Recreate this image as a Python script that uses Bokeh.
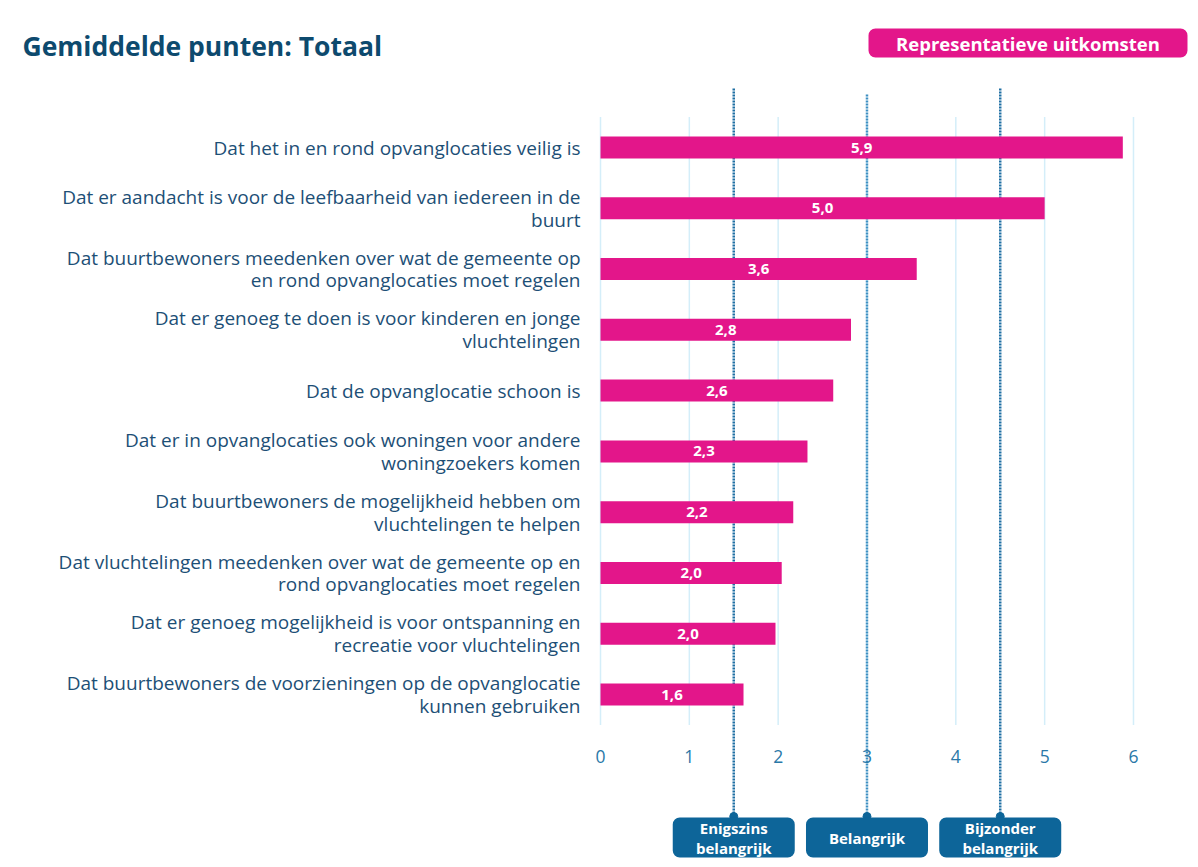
from bokeh.plotting import figure
from bokeh.models import Range1d, LinearAxis, FixedTicker
from bokeh.core.properties import value
from bokeh.embed import file_html
from bokeh.resources import INLINE

# ---------------- data ----------------
categories = [
    "Dat het in en rond opvanglocaties veilig is",
    "Dat er aandacht is voor de leefbaarheid van iedereen in de\nbuurt",
    "Dat buurtbewoners meedenken over wat de gemeente op\nen rond opvanglocaties moet regelen",
    "Dat er genoeg te doen is voor kinderen en jonge\nvluchtelingen",
    "Dat de opvanglocatie schoon is",
    "Dat er in opvanglocaties ook woningen voor andere\nwoningzoekers komen",
    "Dat buurtbewoners de mogelijkheid hebben om\nvluchtelingen te helpen",
    "Dat vluchtelingen meedenken over wat de gemeente op en\nrond opvanglocaties moet regelen",
    "Dat er genoeg mogelijkheid is voor ontspanning en\nrecreatie voor vluchtelingen",
    "Dat buurtbewoners de voorzieningen op de opvanglocatie\nkunnen gebruiken",
]
values = [5.88, 5.00, 3.56, 2.82, 2.62, 2.33, 2.17, 2.04, 1.97, 1.61]
x_ticks = [0, 1, 2, 3, 4, 5, 6]
threshold_values = [1.5, 3.0, 4.5]
threshold_labels = ["Enigszins\nbelangrijk", "Belangrijk", "Bijzonder\nbelangrijk"]
title_text = "Gemiddelde punten: Totaal"
badge_text = "Representatieve uitkomsten"

value_labels = [f"{v:.1f}".replace(".", ",") for v in values]
rows = list(range(len(categories)))

# ---------------- layout helpers ----------------
W, H = 1196, 865
X0_PX = 600.0        # screen px of x = 0
PX_PER_X = 88.83
Y0_PX = 147.0        # screen px of first row centre
PX_PER_ROW = 60.78


def dx(px):
    return (px - X0_PX) / PX_PER_X


def dy(py):
    return (py - Y0_PX) / PX_PER_ROW


FONT = "Open Sans"
PINK = "#e3168a"
DARK = "#1d4f76"
BLUE = "#0d6599"

p = figure(
    width=W, height=H,
    x_range=Range1d(-X0_PX / PX_PER_X, (W - X0_PX) / PX_PER_X),
    y_range=Range1d(start=(H - Y0_PX) / PX_PER_ROW, end=-Y0_PX / PX_PER_ROW),
    output_backend="svg", toolbar_location=None,
    x_axis_location=None, y_axis_location=None,
    min_border=0, outline_line_color=None,
)
p.xgrid.visible = False
p.ygrid.visible = False

axis = LinearAxis(
    ticker=FixedTicker(ticks=x_ticks),
    fixed_location=9.5,
    axis_line_color=None,
    major_tick_line_color=None,
    minor_tick_line_color=None,
    major_label_standoff=19,
    major_label_text_color="#2a78a8",
    major_label_text_font=FONT,
    major_label_text_font_size="17.5px",
)
p.add_layout(axis, "below")

# grid lines
p.segment(x0=x_ticks, y0=[-0.5] * len(x_ticks), x1=x_ticks, y1=[9.5] * len(x_ticks),
          line_color="#d4eef9", line_width=1.5)

# threshold dotted lines
line_tops = [dy(88), dy(94), dy(88)]
line_colors = ["#1f6fa3", "#3d8fc2", "#1f6fa3"]
p.segment(x0=threshold_values, y0=line_tops, x1=threshold_values,
          y1=[dy(814)] * 3, line_color=line_colors, line_width=2.5, line_dash="2 1")

# threshold boxes
half_w = 61 / PX_PER_X
p.scatter(x=threshold_values, y=[dy(816)] * 3, size=8, color=BLUE)
p.quad(left=[t - half_w for t in threshold_values], right=[t + half_w for t in threshold_values],
       top=[dy(817)] * 3, bottom=[dy(857)] * 3, fill_color=BLUE, line_color=None, border_radius=7)
p.text(x=threshold_values, y=[dy(837)] * 3, text=threshold_labels,
       text_align="center", text_baseline="middle", text_color="white",
       text_font=value(FONT), text_font_style="bold", text_font_size="15px",
       text_line_height=1.0)

# bars
p.hbar(y=rows, left=0, right=values, height=0.362, fill_color=PINK, line_color=None)
p.text(x=[v / 2 for v in values], y=rows, text=value_labels,
       text_align="center", text_baseline="middle", text_color="white",
       text_font=value(FONT), text_font_style="bold", text_font_size="15px")

# category labels
p.text(x=[dx(580)] * len(rows), y=rows, text=categories,
       text_align="right", text_baseline="middle", text_color=DARK,
       text_font=value(FONT), text_font_size="19px", text_line_height=0.88)

# title
p.text(x=[dx(22)], y=[dy(45)], text=[title_text], text_align="left", text_baseline="middle",
       text_color="#0d4a6e", text_font=value(FONT), text_font_style="bold", text_font_size="26.5px")

# badge
p.quad(left=[dx(868)], right=[dx(1187)], top=[dy(28)], bottom=[dy(57)],
       fill_color=PINK, line_color=None, border_radius=7)
p.text(x=[dx(1027.5)], y=[dy(42.5)], text=[badge_text], text_align="center", text_baseline="middle",
       text_color="white", text_font=value(FONT), text_font_style="bold", text_font_size="18.5px")

open("out.html", "w").write(file_html(p, INLINE))
